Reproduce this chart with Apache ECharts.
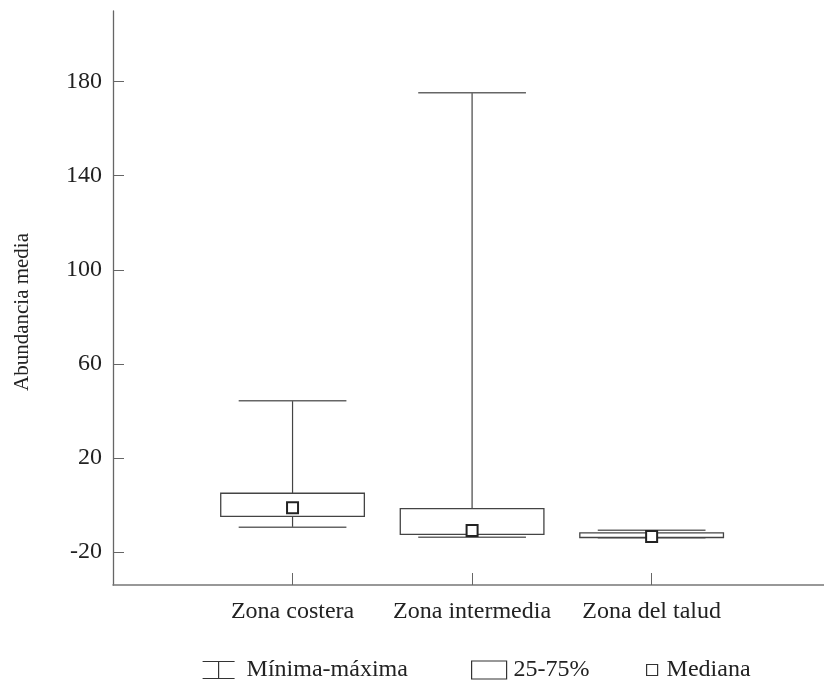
<!DOCTYPE html>
<html>
<head>
<meta charset="utf-8">
<title>Abundancia media</title>
<script src="https://cdn.jsdelivr.net/npm/echarts@6/dist/echarts.min.js"></script>
<style>
  html, body { margin: 0; padding: 0; background: #fff; }
  #chart { width: 824px; height: 683px; }
</style>
</head>
<body>
<div id="chart"></div>
<script>
// zonas y estadisticos
var categories = ["Zona costera", "Zona intermedia", "Zona del talud"];
var minValues = [-9.4, -13.7, -13.9];
var q1Values = [-4.8, -12.5, -13.8];
var medianValues = [-1.2, -10.8, -13.4];
var q3Values = [5.0, -1.5, -11.8];
var maxValues = [44.3, 175.2, -10.7];
var yTicks = [-20, 20, 60, 100, 140, 180];
var xTicks = [1, 2, 3];

var FONT = "Liberation Serif";
var TEXT = "#222";
var LINE = "#444";

var chart = echarts.init(document.getElementById("chart"));

var whiskerData = categories.map(function (c, i) {
    return [i + 1, minValues[i], maxValues[i]];
});
var boxData = categories.map(function (c, i) {
    return [i + 1, q1Values[i], q3Values[i]];
});
var medianData = categories.map(function (c, i) {
    return [i + 1, medianValues[i]];
});

function renderWhisker(params, api) {
    var x = api.value(0);
    var low = api.coord([x, api.value(1)]);
    var high = api.coord([x, api.value(2)]);
    var half = api.size([0.3, 0])[0];
    var style = { stroke: LINE, lineWidth: 1.2 };
    return {
        type: "group",
        children: [
            { type: "line", shape: { x1: low[0], y1: low[1], x2: high[0], y2: high[1] }, style: style },
            { type: "line", shape: { x1: high[0] - half, y1: high[1], x2: high[0] + half, y2: high[1] }, style: { stroke: "#666", lineWidth: 1.5 } },
            { type: "line", shape: { x1: low[0] - half, y1: low[1], x2: low[0] + half, y2: low[1] }, style: { stroke: "#666", lineWidth: 1.5 } }
        ]
    };
}

function renderBox(params, api) {
    var x = api.value(0);
    var bottom = api.coord([x, api.value(1)]);
    var top = api.coord([x, api.value(2)]);
    var half = api.size([0.4, 0])[0];
    return {
        type: "rect",
        shape: { x: top[0] - half, y: top[1], width: half * 2, height: bottom[1] - top[1] },
        style: { fill: "#fff", stroke: LINE, lineWidth: 1.3 }
    };
}

function makeLegend(name, left, icon, w, h, gap) {
    return {
        data: [{ name: name, icon: icon }],
        left: left,
        top: 653,
        itemWidth: w,
        itemHeight: h,
        selectedMode: false,
        itemStyle: { color: "#fff", borderColor: "#333", borderWidth: 1.2 },
        textStyle: { fontFamily: FONT, fontSize: 24, color: TEXT, padding: [0, 0, 0, gap] }
    };
}

chart.setOption({
    animation: false,
    backgroundColor: "#fff",
    grid: { left: 113, right: 0, top: 11, bottom: 98 },
    legend: [
        makeLegend("Mínima-máxima", 197, "path://M0,0L32,0M16,0L16,17M0,17L32,17", 32, 17, 7),
        makeLegend("25-75%", 466, "rect", 35, 18, 2),
        makeLegend("Mediana", 641, "rect", 11, 11, 4)
    ],
    xAxis: {
        type: "value",
        min: 0,
        max: 3.96,
        axisLine: { onZero: false, lineStyle: { color: "#777", width: 1.5 } },
        axisTick: { show: true, inside: true, length: 12, customValues: xTicks, lineStyle: { color: "#666" } },
        axisLabel: {
            customValues: xTicks,
            margin: 15,
            fontFamily: FONT,
            fontSize: 24,
            color: TEXT,
            formatter: function (v) { return categories[v - 1]; }
        },
        splitLine: { show: false }
    },
    yAxis: {
        type: "value",
        min: -34,
        max: 210,
        name: "Abundancia media",
        nameLocation: "middle",
        nameGap: 80,
        nameRotate: 90,
        nameTextStyle: { fontFamily: FONT, fontSize: 21, color: TEXT, padding: [0, 28, 0, 0] },
        axisLine: { show: true, onZero: false, lineStyle: { color: "#666", width: 1.3 } },
        axisTick: { show: true, inside: true, length: 11, customValues: yTicks, lineStyle: { color: "#666" } },
        axisLabel: { customValues: yTicks, margin: 11, fontFamily: FONT, fontSize: 24, color: TEXT },
        splitLine: { show: false }
    },
    series: [
        {
            name: "Mínima-máxima",
            type: "custom",
            renderItem: renderWhisker,
            encode: { x: 0, y: [1, 2] },
            data: whiskerData
        },
        {
            name: "25-75%",
            type: "custom",
            renderItem: renderBox,
            encode: { x: 0, y: [1, 2] },
            data: boxData
        },
        {
            name: "Mediana",
            type: "scatter",
            symbol: "rect",
            symbolSize: 11,
            itemStyle: { color: "#fff", borderColor: "#222", borderWidth: 2, opacity: 1 },
            data: medianData
        }
    ]
});
</script>
</body>
</html>
